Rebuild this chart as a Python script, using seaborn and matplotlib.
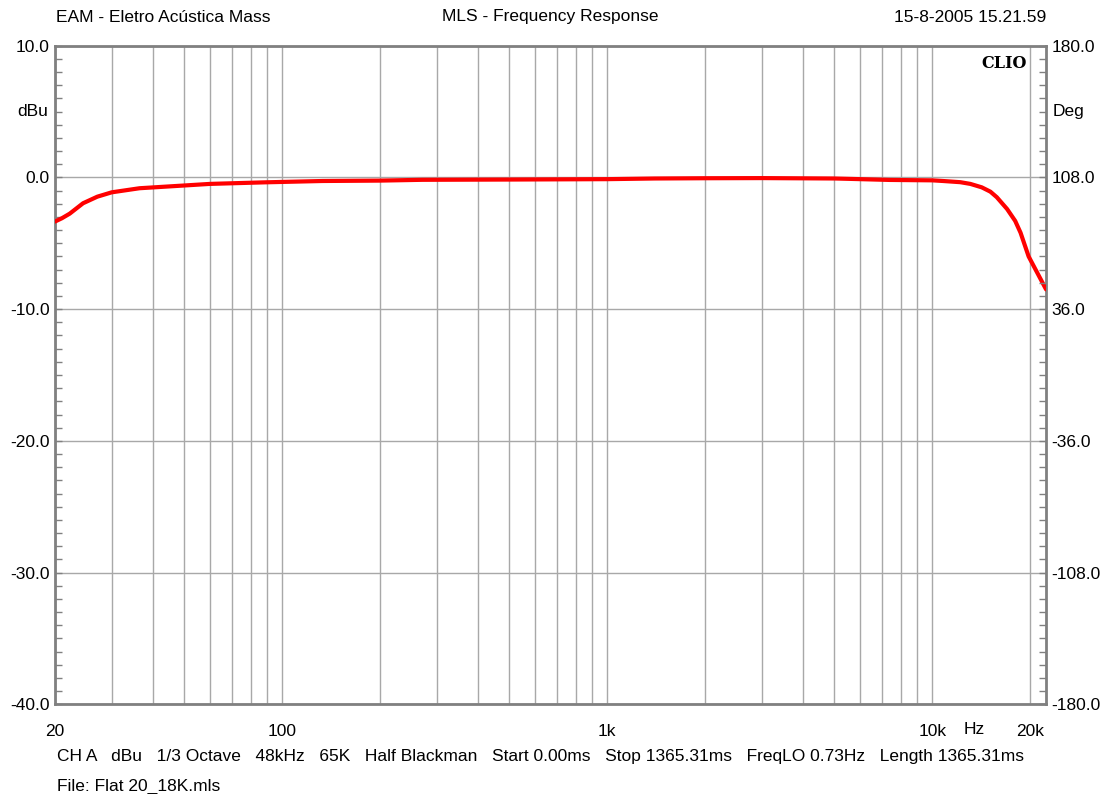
"""
CLIO MLS frequency response (EAM - Flat 20_18K) redrawn with seaborn.
"""

import numpy as np
import pandas as pd
import matplotlib
matplotlib.use("Agg")
import matplotlib.pyplot as plt
import matplotlib.ticker as mticker
import seaborn as sns

# Curve (1/3 octave smoothed response)
freq_hz = [20, 21, 22.2, 24.4, 27.0, 29.9, 36.4, 49.3, 60, 89, 133, 200,
           270, 500, 1000, 1400, 2000, 3000, 5000, 5600, 7400, 10000,
           10800, 12200, 13100, 14200, 15100, 15800, 17000, 18000, 18700,
           19800, 22400]
level_dbu = [-3.35, -3.1, -2.75, -1.96, -1.46, -1.13, -0.82, -0.62, -0.49,
             -0.37, -0.27, -0.24, -0.18, -0.16, -0.13, -0.08, -0.06, -0.05,
             -0.08, -0.11, -0.19, -0.22, -0.27, -0.36, -0.49, -0.75, -1.08,
             -1.5, -2.4, -3.3, -4.2, -6.0, -8.5]

x_ticks = [20, 100, 1000, 10000, 20000]
x_labels = ["20", "100", "1k", "10k", "20k"]
y_ticks = [-40, -30, -20, -10, 0, 10]
y_labels = ["-40.0", "-30.0", "-20.0", "-10.0", "0.0", "10.0"]
deg_ticks = [-180, -108, -36, 36, 108, 180]
deg_labels = ["-180.0", "-108.0", "-36.0", "36.0", "108.0", "180.0"]

header_left = "EAM - Eletro Acústica Mass"
header_mid = "MLS - Frequency Response"
header_right = "15-8-2005 15.21.59"
footer_1 = ("CH A   dBu   1/3 Octave   48kHz   65K   Half Blackman   "
            "Start 0.00ms   Stop 1365.31ms   FreqLO 0.73Hz   Length 1365.31ms")
footer_2 = "File: Flat 20_18K.mls"

sns.set_style("white")
plt.rcParams["font.family"] = ["Liberation Sans", "DejaVu Sans"]
plt.rcParams["text.color"] = "black"
plt.rcParams["xtick.labelcolor"] = "black"
plt.rcParams["ytick.labelcolor"] = "black"
fs = 12.5

spine_col = "#808080"
grid_col = "#a8a8a8"

fig = plt.figure(figsize=(11.06, 7.94), dpi=100)
ax = fig.add_axes([0.0497, 0.1130, 0.8961, 0.8294])

df = pd.DataFrame({"freq": freq_hz, "dbu": level_dbu})
sns.lineplot(data=df, x="freq", y="dbu", color="#ff0000", lw=3,
             ax=ax, zorder=5)

ax.set_xscale("log")
ax.set_xlim(20, 22400)
ax.set_ylim(-40, 10)
ax.set_xlabel("")
ax.set_ylabel("")

# x axis: labelled decades, grid on every 1..9 subdivision
ax.xaxis.set_major_locator(mticker.FixedLocator(x_ticks))
ax.xaxis.set_major_formatter(mticker.FixedFormatter(x_labels))
ax.xaxis.set_minor_locator(mticker.LogLocator(base=10, subs=np.arange(1, 10), numticks=20))
ax.xaxis.set_minor_formatter(mticker.NullFormatter())
ax.tick_params(axis="x", which="both", length=0, pad=14, labelsize=fs,
               labelcolor="black")
ax.grid(True, axis="x", which="both", color=grid_col, lw=1)

# left y axis
ax.set_yticks(y_ticks)
ax.set_yticklabels(y_labels)
ax.yaxis.set_minor_locator(mticker.MultipleLocator(1))
ax.tick_params(axis="y", which="both", direction="in", length=5, width=1,
               color=spine_col, pad=4, labelsize=fs, labelcolor="black")
ax.grid(True, axis="y", which="major", color=grid_col, lw=1)

for s in ax.spines.values():
    s.set_color(spine_col)
    s.set_linewidth(2)

# right axis (phase, degrees)
ax2 = ax.twinx()
ax2.set_ylim(-180, 180)
ax2.set_yticks(deg_ticks)
ax2.set_yticklabels(deg_labels)
ax2.yaxis.set_minor_locator(mticker.MultipleLocator(7.2))
ax2.tick_params(axis="y", which="both", direction="in", length=5, width=1,
                color=spine_col, pad=4, labelsize=fs, labelcolor="black")
for s in ax2.spines.values():
    s.set_visible(False)

# unit labels
ax.text(-0.0065, 0.9, "dBu", transform=ax.transAxes, ha="right", va="center", fontsize=fs)
ax.text(1.0065, 0.9, "Deg", transform=ax.transAxes, ha="left", va="center", fontsize=fs)
ax.text(13500, -0.0385, "Hz", transform=ax.get_xaxis_transform(),
        ha="center", va="center", fontsize=fs)
ax.text(0.9805, 0.9866, "CLIO", transform=ax.transAxes, ha="right", va="top",
        fontsize=11.5, fontweight="bold", family="DejaVu Serif")

# header and footer
fig.text(56 / 1106, 1 - 17 / 794, header_left, ha="left", va="center", fontsize=fs)
fig.text(550 / 1106, 1 - 17 / 794, header_mid, ha="center", va="center", fontsize=fs)
fig.text(1046 / 1106, 1 - 17 / 794, header_right, ha="right", va="center", fontsize=fs)
fig.text(57 / 1106, 1 - 756 / 794, footer_1, ha="left", va="center", fontsize=fs)
fig.text(57 / 1106, 1 - 786 / 794, footer_2, ha="left", va="center", fontsize=fs)

fig.savefig("out.png", dpi=100)
